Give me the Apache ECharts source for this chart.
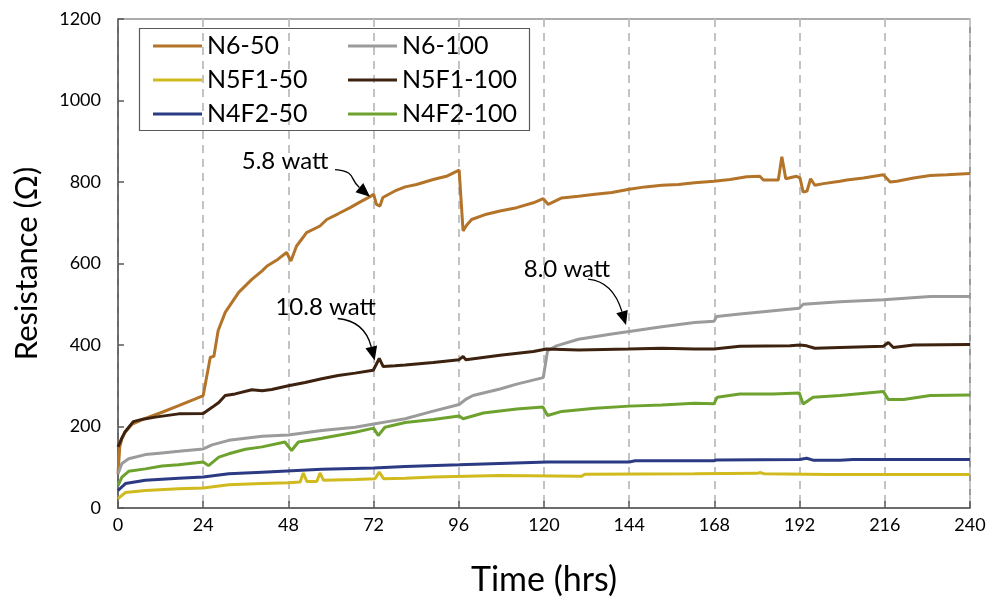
<!DOCTYPE html>
<html>
<head>
<meta charset="utf-8">
<title>Resistance vs time</title>
<script src="https://cdn.jsdelivr.net/npm/echarts@6/dist/echarts.min.js"></script>
<style>
  html, body { margin: 0; padding: 0; background: #fff; }
  #main { width: 991px; height: 602px; }
</style>
</head>
<body>
<div id="main"></div>
<script>
// x ticks (hrs) and y ticks (ohm)
var timeTicks = [0, 24, 48, 72, 96, 120, 144, 168, 192, 216, 240];
var resTicks = [0, 200, 400, 600, 800, 1000, 1200];

var seriesNames = ['N6-50', 'N6-100', 'N5F1-50', 'N5F1-100', 'N4F2-50', 'N4F2-100'];
var seriesColors = ['#B3742A', '#9B9B9B', '#D1BA1E', '#3D2210', '#2B3A82', '#6EA22E'];

// [time, resistance]
var n6_50 = [[0,84],[0.5,150],[1.1,170],[2,186],[4,206],[7.7,220],[12.4,235],[17.1,251],[21.8,268],[24,276],
  [26,370],[27,372],[28.2,435],[30.2,480],[34,529],[37.7,561],[40.6,582],[42,594],[45,610],[47.5,627],[48.7,606],
  [50.3,643],[52.2,665],[53.1,676],[56.9,692],[58.8,708],[62,722],[65.4,737],[68,750],[71,764],[72,770],
  [72.8,745],[73.8,741],[74.6,762],[78,778],[80.9,788],[84.1,794],[88.8,806],[92.5,814],[96.1,829],[97.2,680],
  [98.2,694],[99.6,708],[103.8,721],[107.6,729],[112.3,737],[117,749],[119.8,759],[121.2,745],[125,761],
  [129.7,765],[134.4,770],[139.1,774],[144,782],[148.5,788],[153.2,792],[157.9,794],[162.4,798],[167.9,802],
  [172.4,806],[177.1,813],[180.8,814],[181.8,805],[186,805],[187,862],[188.1,808],[191.1,814],[192.1,810],
  [193,775],[194.1,778],[195.1,808],[196.3,792],[198.7,796],[203.4,802],[205.3,805],[210,810],[215.6,818],
  [217.5,800],[219.4,802],[224.1,810],[228.8,816],[233.5,818],[240,821]];
var n6_100 = [[0,84],[1.1,109],[3,121],[7.7,131],[12.4,135],[17.1,139],[24,145],[26.5,155],[31.2,166],[35.9,171],
  [40.6,176],[48,179],[57.4,190],[66.8,198],[72,206],[76,212],[80.9,219],[88,236],[96.1,254],[98.2,268],
  [100,276],[107.6,292],[112.3,304],[119.8,320],[121,386],[123.5,398],[129.7,414],[139.1,427],[144,433],
  [153.2,445],[162.4,455],[167.9,458],[168.6,470],[175.2,476],[184.6,484],[191.9,490],[193,500],[203.4,506],
  [215.6,511],[228.8,519],[240,519]];
var n5f1_50 = [[0,23],[2.1,38],[7.7,43],[17.1,47],[24,49],[31.2,57],[40.6,60],[48,62],[51.3,64],[52.2,86],
  [53.2,65],[56,65],[56.9,86],[57.9,68],[66.8,70],[72.4,72],[73.6,88],[74.8,72],[80.9,73],[88.8,76],
  [107.6,80],[130.6,78],[131.5,83],[162.4,84],[180,85],[181,87],[182,84],[200,82],[240,82]];
var n5f1_100 = [[0,150],[0.5,160],[1.1,172],[2,187],[4.3,212],[7,218],[10.5,223],[17.1,231],[24,232],[26.5,247],
  [28.4,259],[30.2,276],[33,280],[37.7,290],[40.6,288],[43.3,291],[48,300],[52.7,308],[57.4,317],[62,325],
  [66.8,331],[71.9,338],[73.6,367],[74.7,347],[78,349],[80.9,351],[88.8,357],[96.1,364],[97.2,372],[98,364],
  [107.6,375],[117,384],[120.7,390],[129.7,388],[143.8,390],[153.2,392],[162.4,390],[167.9,390],[175.2,397],
  [189.3,398],[192.1,400],[194,398],[196.3,392],[203.4,394],[215.6,397],[217,406],[218.4,394],[224.1,400],[240,401]];
var n4f2_50 = [[0,43],[2.1,60],[7.7,68],[17.1,73],[24,76],[31.2,84],[40.6,88],[57.4,95],[72,98],[80.9,102],
  [96.1,106],[121,113],[144,113],[145.7,116],[167.9,116],[168.6,118],[192,119],[194,122],[196,117],[203.4,117],
  [207,119],[240,119]];
var n4f2_100 = [[0,55],[1.1,76],[3,90],[7.7,96],[12.4,103],[17.1,106],[24,113],[25.5,104],[28.4,125],[31.2,133],
  [35.9,144],[40.6,150],[47,162],[48.9,141],[50.8,162],[57.4,171],[66.8,186],[72,196],[73.3,178],[75.2,198],
  [80.9,210],[88.8,217],[96.1,226],[97.2,219],[102.9,233],[112.3,243],[119.7,248],[121,227],[125,237],
  [134.4,245],[144,250],[153.2,253],[162.4,257],[167.9,256],[168.8,272],[175.2,280],[184.6,280],[191.9,282],
  [193,255],[195.8,272],[203.4,276],[215.6,286],[217,266],[221.3,266],[228.8,276],[240,277]];

var seriesData = [n6_50, n6_100, n5f1_50, n5f1_100, n4f2_50, n4f2_100];

// annotations: text, arrow tip [time, resistance], text offset and curve start offset from the tip (px)
var notes = [
  { text: '5.8 watt', tip: [71, 764], textOff: [-85, -35], startOff: [-35, -27], dir: [1, 0.85] },
  { text: '10.8 watt', tip: [72.3, 362], textOff: [-49, -53], startOff: [-37, -42], dir: [0.25, 1] },
  { text: '8.0 watt', tip: [143.1, 449], textOff: [-59, -56], startOff: [-38, -46], dir: [0.3, 1] }
];

var fontName = 'Lato, "Open Sans", sans-serif';
var axisColor = '#595959';
var myChart = echarts.init(document.getElementById('main'));

var series = [];
for (var i = 0; i < seriesNames.length; i++) {
  series.push({
    name: seriesNames[i],
    type: 'line',
    data: seriesData[i],
    symbol: 'none',
    animation: false,
    lineStyle: { width: 3, color: seriesColors[i] },
    itemStyle: { color: seriesColors[i] }
  });
}

var legendText = { fontFamily: fontName, fontSize: 25, color: '#000', lineHeight: 26 };

var option = {
  animation: false,
  backgroundColor: '#fff',
  grid: {
    left: 118, right: 21, top: 19, bottom: 93,
    show: true, borderColor: axisColor, borderWidth: 1.2
  },
  legend: [
    {
      data: ['N6-50', 'N5F1-50', 'N4F2-50'],
      orient: 'vertical', left: 153, top: 33, padding: 0,
      itemWidth: 49, itemHeight: 3, itemGap: 8, icon: 'rect',
      textStyle: legendText
    },
    {
      data: ['N6-100', 'N5F1-100', 'N4F2-100'],
      orient: 'vertical', left: 348, top: 33, padding: 0,
      itemWidth: 49, itemHeight: 3, itemGap: 8, icon: 'rect',
      textStyle: legendText
    }
  ],
  xAxis: {
    type: 'value', min: 0, max: 240, interval: 24,
    name: 'Time (hrs)', nameLocation: 'middle', nameGap: 55,
    nameTextStyle: { fontFamily: fontName, fontSize: 34, color: '#000' },
    axisLine: { show: true, lineStyle: { color: axisColor, width: 1.5 } },
    axisTick: { show: true, inside: true, length: 7, lineStyle: { color: axisColor, width: 1.5 } },
    axisLabel: { fontFamily: fontName, fontSize: 18, color: '#000', margin: 8,
      formatter: function (v) { return timeTicks.indexOf(v) >= 0 ? String(v) : ''; } },
    splitLine: { show: true, lineStyle: { color: '#c3c3c3', width: 2, type: [8, 6] } }
  },
  yAxis: {
    type: 'value', min: 0, max: 1200, interval: 200,
    name: 'Resistance (Ω)', nameLocation: 'middle', nameGap: 76, nameRotate: 90,
    nameTextStyle: { fontFamily: fontName, fontSize: 31, color: '#000' },
    axisLine: { show: true, lineStyle: { color: axisColor, width: 1.5 } },
    axisTick: { show: true, inside: true, length: 6, lineStyle: { color: axisColor, width: 1.5 } },
    axisLabel: { fontFamily: fontName, fontSize: 18, color: '#000', margin: 17,
      formatter: function (v) { return resTicks.indexOf(v) >= 0 ? String(v) : ''; } },
    splitLine: { show: false }
  },
  series: series
};

myChart.setOption(option);

// legend frame + annotation arrows
var graphics = [{
  type: 'rect', z: 10,
  shape: { x: 139.5, y: 28.5, width: 390, height: 102 },
  style: { fill: 'none', stroke: axisColor, lineWidth: 1.2 }
}];
for (var k = 0; k < notes.length; k++) {
  var n = notes[k];
  var tp = myChart.convertToPixel({ xAxisIndex: 0, yAxisIndex: 0 }, n.tip);
  var len = Math.sqrt(n.dir[0] * n.dir[0] + n.dir[1] * n.dir[1]);
  var dx = n.dir[0] / len, dy = n.dir[1] / len;
  var base = [tp[0] - dx * 14, tp[1] - dy * 14];
  var sx = tp[0] + n.startOff[0], sy = tp[1] + n.startOff[1];
  graphics.push({
    type: 'text', z: 20,
    x: tp[0] + n.textOff[0], y: tp[1] + n.textOff[1],
    style: { text: n.text, fontFamily: fontName, fontSize: 24, fill: '#000', align: 'center', verticalAlign: 'middle' }
  });
  graphics.push({
    type: 'bezierCurve', z: 20,
    shape: { x1: sx, y1: sy, cpx1: sx + 22, cpy1: sy + 2, cpx2: base[0] - dx * 14, cpy2: base[1] - dy * 14, x2: base[0], y2: base[1] },
    style: { stroke: '#000', lineWidth: 1.3, fill: 'none' }
  });
  graphics.push({
    type: 'polygon', z: 20,
    shape: { points: [tp, [base[0] - dy * 6, base[1] + dx * 6], [base[0] + dy * 6, base[1] - dx * 6]] },
    style: { fill: '#000' }
  });
}
myChart.setOption({ graphic: graphics });
</script>
</body>
</html>
